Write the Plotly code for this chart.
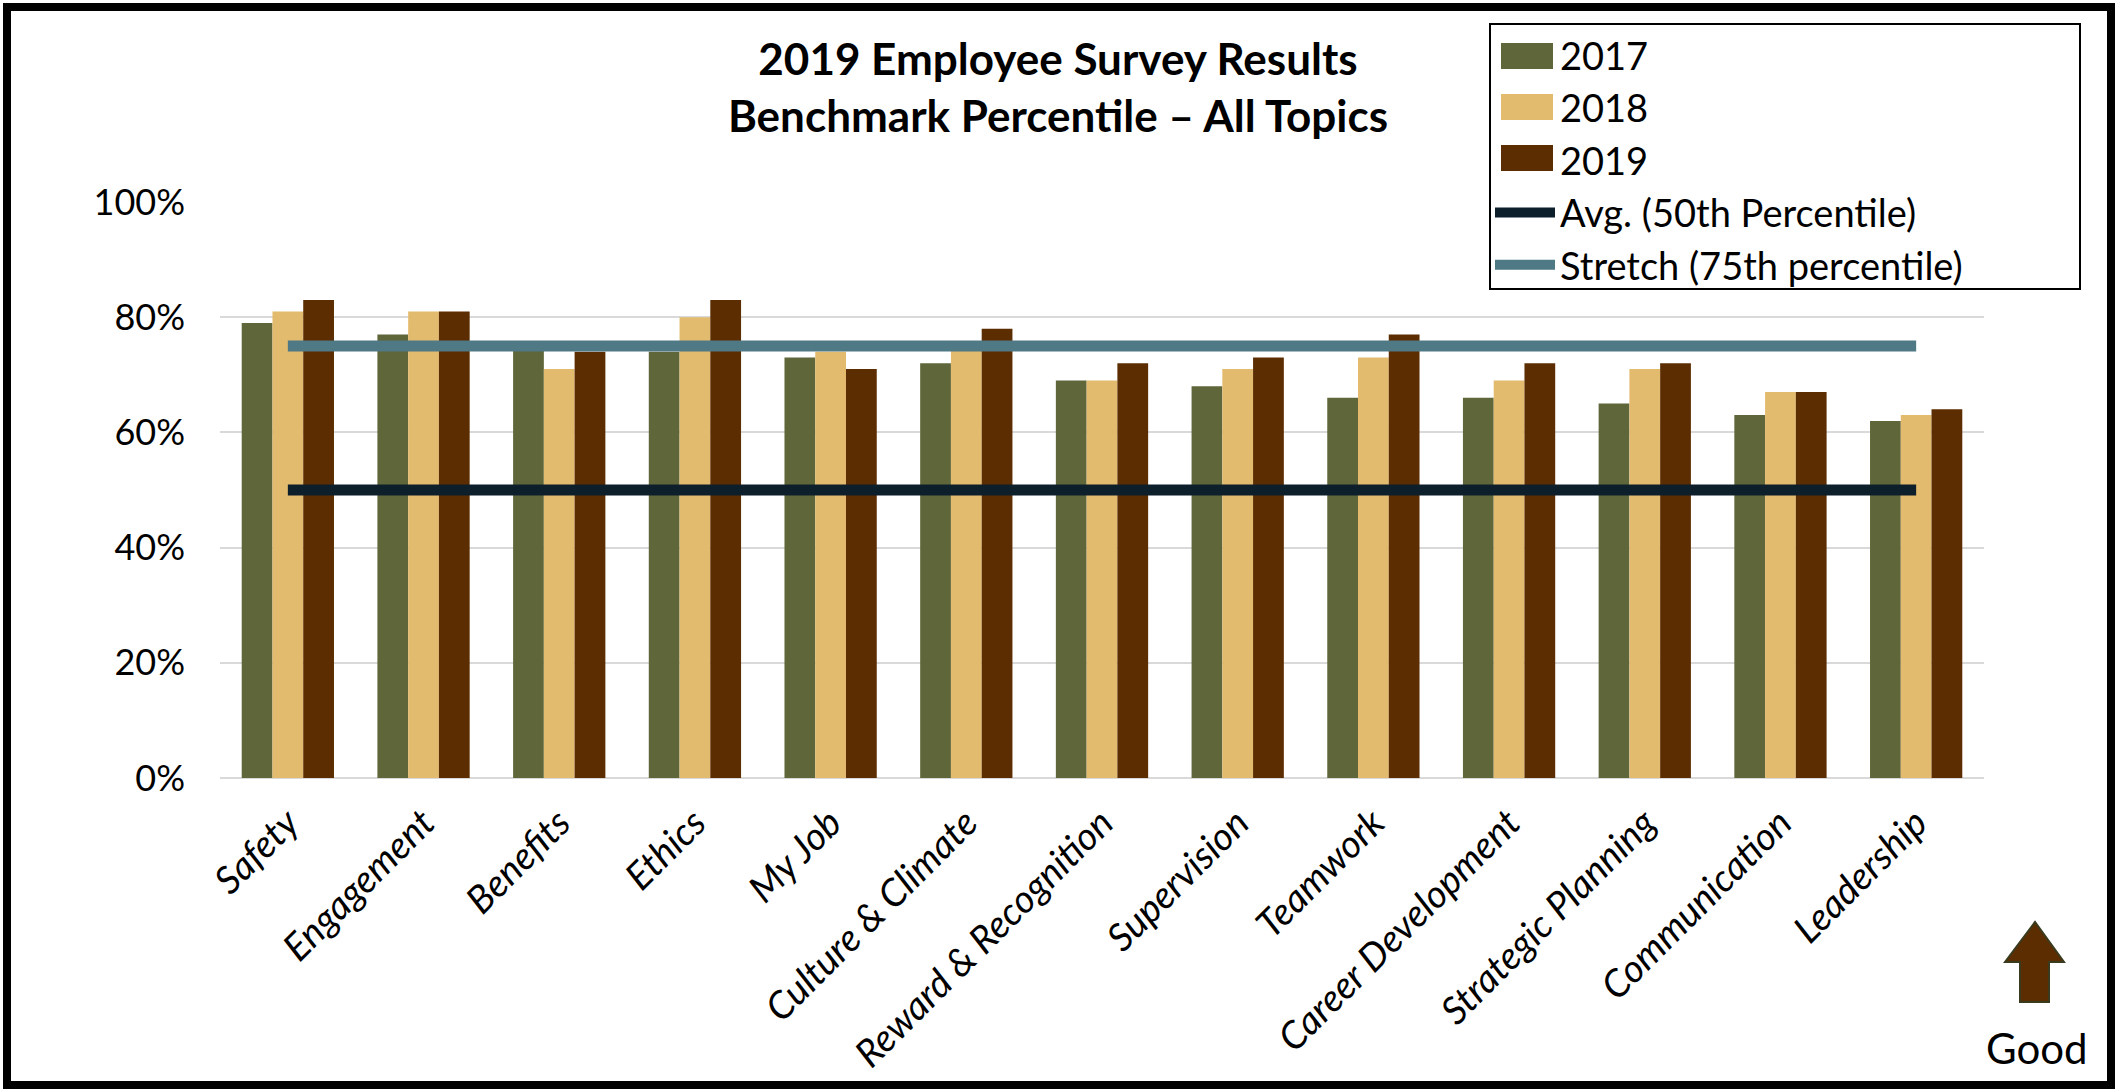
import plotly.graph_objects as go

categories = ["Safety", "Engagement", "Benefits", "Ethics", "My Job", "Culture & Climate",
              "Reward & Recognition", "Supervision", "Teamwork", "Career Development",
              "Strategic Planning", "Communication", "Leadership"]
v2017 = [0.79, 0.77, 0.75, 0.74, 0.73, 0.72, 0.69, 0.68, 0.66, 0.66, 0.65, 0.63, 0.62]
v2018 = [0.81, 0.81, 0.71, 0.80, 0.74, 0.75, 0.69, 0.71, 0.73, 0.69, 0.71, 0.67, 0.63]
v2019 = [0.83, 0.81, 0.74, 0.83, 0.71, 0.78, 0.72, 0.73, 0.77, 0.72, 0.72, 0.67, 0.64]
series_names = ["2017", "2018", "2019"]
avg_name = "Avg. (50th Percentile)"
stretch_name = "Stretch (75th percentile)"
avg_value = 0.50
stretch_value = 0.75
y_ticks = [0, 0.2, 0.4, 0.6, 0.8, 1.0]

W, H = 2118, 1089
L, R, T, B = 220, 134, 202, 311
PW, PH = W - L - R, H - T - B
FONT = "Lato, Liberation Sans, sans-serif"

def px(x):
    return (x - L) / PW

def py(y):
    return (H - B - y) / PH

bar_colors = ["#5F673A", "#E2BB6F", "#5C2D00"]

fig = go.Figure()
for name, vals, col in zip(series_names, [v2017, v2018, v2019], bar_colors):
    fig.add_trace(go.Bar(x=categories, y=vals, name=name, marker=dict(color=col, line=dict(width=0))))

fig.add_trace(go.Scatter(x=[categories[0], categories[-1]], y=[avg_value, avg_value], mode="lines",
                         name=avg_name, line=dict(color="#0E1F2C", width=11)))
fig.add_trace(go.Scatter(x=[categories[0], categories[-1]], y=[stretch_value, stretch_value], mode="lines",
                         name=stretch_name, line=dict(color="#4E7985", width=11)))

# legend box (white backing + border) and wide bar swatches beneath the transparent legend
LEG_X0, LEG_X1, LEG_Y0, LEG_Y1 = 1490, 2080, 24, 289
shapes = [
    dict(type="rect", xref="paper", yref="paper", x0=px(LEG_X0), x1=px(LEG_X1), y0=py(LEG_Y1), y1=py(LEG_Y0),
         fillcolor="white", line=dict(color="black", width=2), layer="above"),
]
swatch_centers = [56, 107, 158]
for col, cy in zip(bar_colors, swatch_centers):
    shapes.append(dict(type="rect", xref="paper", yref="paper", x0=px(1501), x1=px(1553),
                       y0=py(cy + 13), y1=py(cy - 13), fillcolor=col, line=dict(width=0), layer="above"))

shapes += [
    dict(type="rect", xref="paper", yref="paper", x0=px(7), x1=px(2111), y0=py(1085), y1=py(7),
         line=dict(color="black", width=8), layer="above"),
    dict(type="path", xref="paper", yref="paper",
         path=("M {a},{b} L {c},{b} L {c},{d} L {e},{d} L {f},{g} L {h},{d} L {i},{d} L {i},{b} Z").format(
             a=px(2020), b=py(1002), c=px(2049), d=py(962), e=px(2064), f=px(2035), g=py(922), h=px(2005), i=px(2020)),
         fillcolor="#5C2D00", line=dict(color="#3A3A1E", width=2)),
]

annotations = [
    dict(text="Good", xref="paper", yref="paper", x=px(2037), y=py(1048), showarrow=False,
         xanchor="center", yanchor="middle", font=dict(family=FONT, size=42, color="black")),
]

fig.update_layout(
    width=W, height=H,
    margin=dict(l=L, r=R, t=T, b=B),
    paper_bgcolor="white", plot_bgcolor="white",
    barmode="group", bargap=0.32, bargroupgap=0,
    title=dict(text="<b>2019 Employee Survey Results<br>Benchmark Percentile – All Topics</b>",
               x=1058 / W, xanchor="center", xref="container",
               y=1 - 75 / H, yanchor="top", yref="container",
               font=dict(family=FONT, size=44, color="black")),
    xaxis=dict(range=[-0.5, 12.5], tickangle=-45, showgrid=False, showline=False, ticks="",
               tickfont=dict(family=FONT, size=38, color="black", style="italic"),
               ticklabelstandoff=14, automargin=False),
    yaxis=dict(range=[0, 1.0], tickvals=y_ticks, tickformat=".0%", showgrid=True,
               gridcolor="#D9D9D9", gridwidth=2, zeroline=True, zerolinecolor="#D9D9D9",
               zerolinewidth=2, showline=False, ticks="", automargin=False,
               tickfont=dict(family=FONT, size=36, color="black"), ticklabelstandoff=34),
    legend=dict(x=px(1490), y=py(24), xanchor="left", yanchor="top", borderwidth=0,
                bgcolor="rgba(0,0,0,0)", font=dict(family=FONT, size=38, color="black"),
                itemwidth=60, tracegroupgap=0),
    shapes=shapes, annotations=annotations,
    showlegend=True,
)

fig.write_html("out.html")
